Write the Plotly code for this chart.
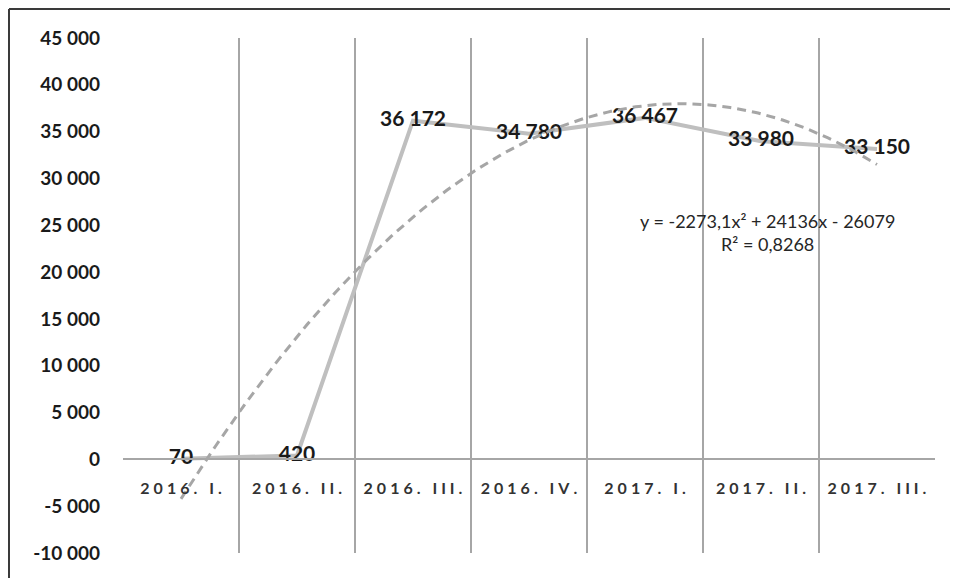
import numpy as np
import plotly.graph_objects as go

# Quarterly values, 2016 Q1 - 2017 Q3
QUARTERS = ["2016. I.", "2016. II.", "2016. III.", "2016. IV.", "2017. I.", "2017. II.", "2017. III."]
VALUES = [70, 420, 36172, 34780, 36467, 33980, 33150]

# Polynomial trendline as printed on the chart (order 2)
TREND_COEF = [-2273.1, 24136, -26079]
TREND_LABEL = "y = -2273,1x² + 24136x - 26079<br>R² = 0,8268"

Y_TICKS = [-10000, -5000, 0, 5000, 10000, 15000, 20000, 25000, 30000, 35000, 40000, 45000]
Y_TICKTEXT = ["-10 000", "-5 000", "0", "5 000", "10 000", "15 000", "20 000",
              "25 000", "30 000", "35 000", "40 000", "45 000"]

FONT = "Lato, 'Open Sans', sans-serif"
GRID = "#A6A6A6"


def spaced(label: str) -> str:
    # the original axis labels are letter-spaced
    return "\u2005".join(label)


xs = list(range(1, len(VALUES) + 1))
x_fine = np.linspace(1, len(VALUES), 200)
y_fine = np.polyval(TREND_COEF, x_fine)

fig = go.Figure()
fig.add_trace(go.Scatter(
    x=xs, y=VALUES,
    mode="lines+text",
    line=dict(color="#BFBFBF", width=4),
    text=[f"{v:,}".replace(",", " ") for v in VALUES],
    textposition="middle center",
    textfont=dict(family=FONT, size=21, color="#1A1A1A", weight="bold"),
    cliponaxis=False,
    showlegend=False,
))
fig.add_trace(go.Scatter(
    x=x_fine, y=y_fine,
    mode="lines",
    line=dict(color="#A6A6A6", width=3, dash="9px,6px"),
    showlegend=False,
    hoverinfo="skip",
))

fig.add_annotation(
    x=6.06, y=24250, xref="x", yref="y",
    text=TREND_LABEL, showarrow=False,
    font=dict(family=FONT, size=18, color="#262626"),
    align="center",
)

# frame of the original chart: only its top and left edges are in the picture;
# keep both inside the figure so nothing overflows the page
frame = dict(color="#3A3A3A", width=2)
fig.add_shape(type="line", xref="paper", yref="paper",
              x0=-0.1404, x1=1.027, y0=1.0563, y1=1.0563, line=frame, layer="below")
fig.add_shape(type="line", xref="paper", yref="paper",
              x0=-0.1404, x1=-0.1404, y0=-0.05, y1=1.0563, line=frame, layer="below")

fig.update_layout(
    width=958, height=578,
    margin=dict(l=115, r=31, t=30, b=33),
    paper_bgcolor="white", plot_bgcolor="white",
    xaxis=dict(
        range=[0.5, len(VALUES) + 0.5],
        tickvals=xs,
        ticktext=[spaced(q) for q in QUARTERS],
        tickfont=dict(family=FONT, size=16, color="#333333", weight="bold"),
        showgrid=False, zeroline=False,
        showline=True, linecolor=GRID, linewidth=2,
        anchor="free", position=10000 / 55000,
        ticks="", ticklabelstandoff=14,
        minor=dict(tickvals=[i + 0.5 for i in range(0, len(VALUES) + 1)],
                   showgrid=True, gridcolor=GRID, gridwidth=2),
    ),
    yaxis=dict(
        range=[-10000, 45000],
        tickvals=Y_TICKS, ticktext=Y_TICKTEXT,
        tickfont=dict(family=FONT, size=19, color="#1A1A1A", weight="bold"),
        showgrid=False, zeroline=False, showline=False,
        ticks="", ticklabelstandoff=22,
    ),
)

fig.write_html("out.html")
